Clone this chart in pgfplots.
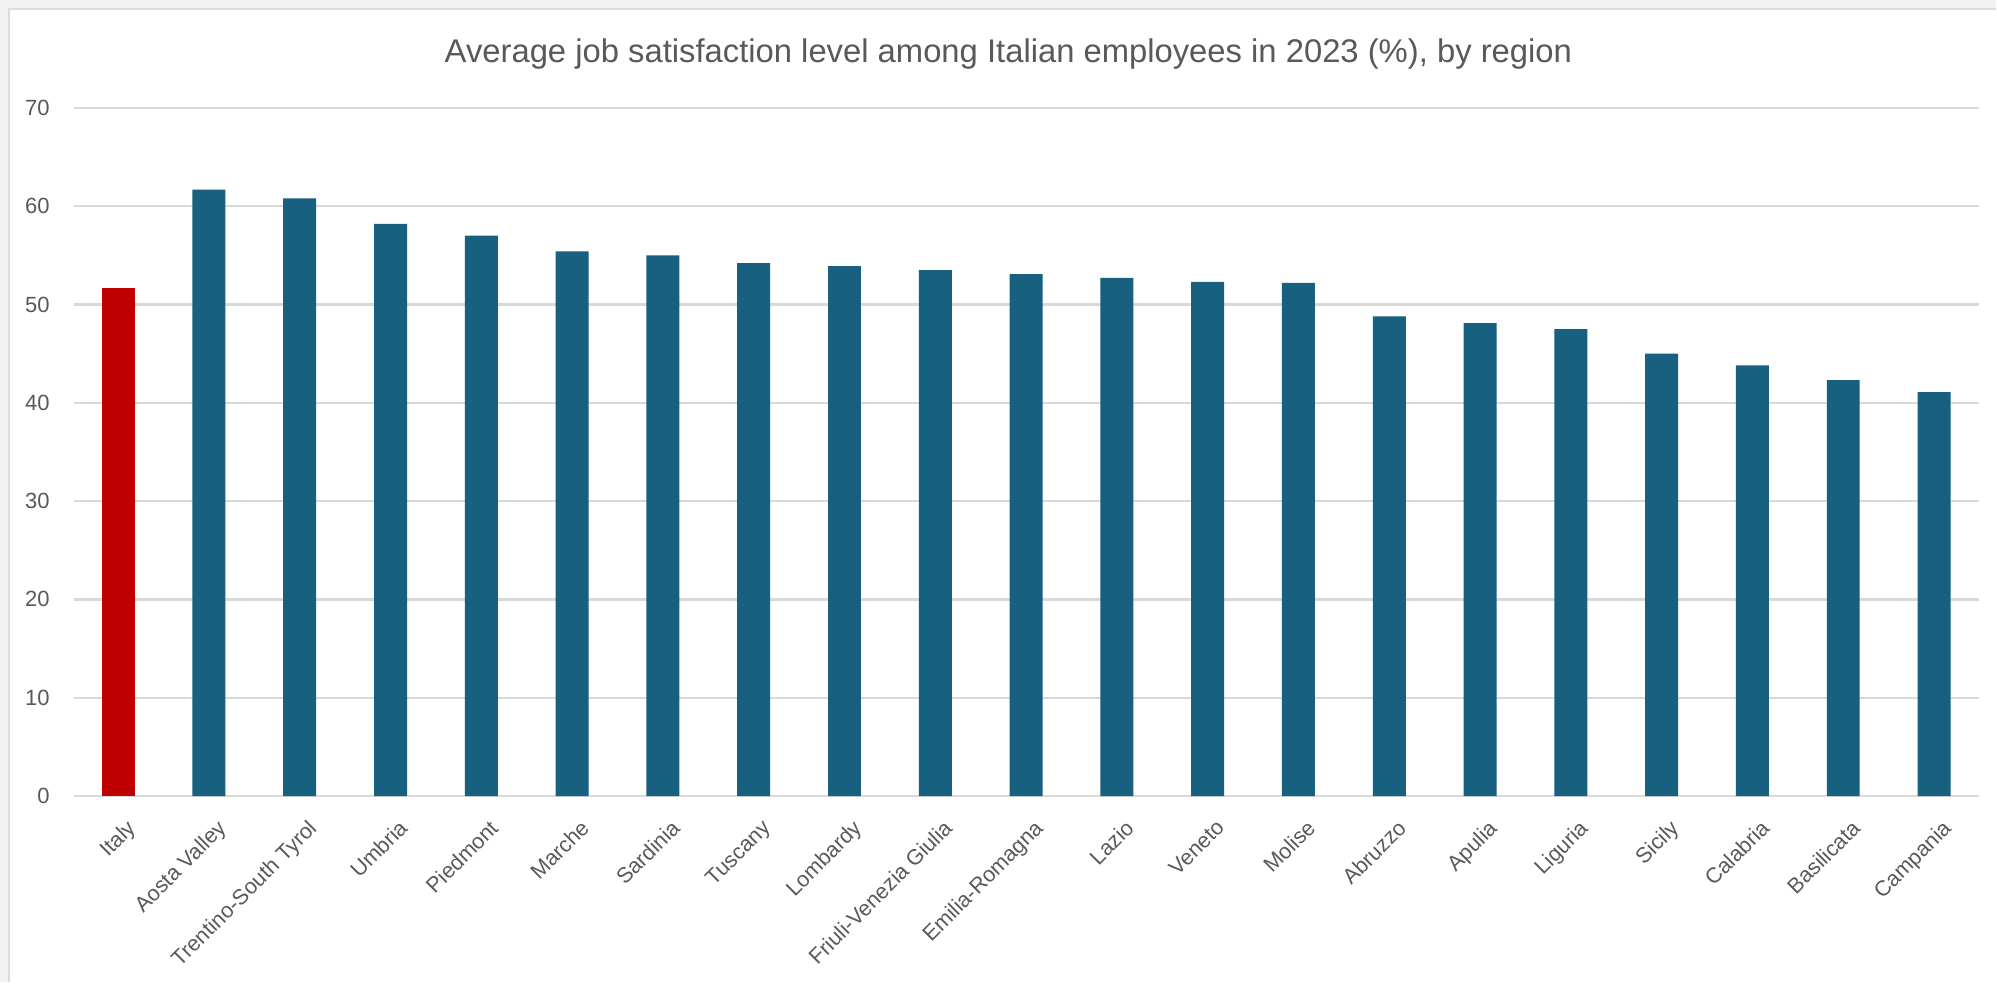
\documentclass[border=0pt]{standalone}
\usepackage{pgfplots}
\pgfplotsset{compat=1.18}
\usepackage{fontspec}
\setmainfont{Liberation Sans}
\definecolor{barblue}{HTML}{17607F}
\definecolor{barred}{HTML}{C00000}
\definecolor{txt}{HTML}{595959}
\definecolor{gridc}{HTML}{D9D9D9}
\definecolor{framec}{HTML}{F2F2F2}
\begin{document}
\begin{tikzpicture}[x=1pt,y=1pt]
\fill[framec] (0,0) rectangle (998.5,491.5);
\fill[white] (5,0) rectangle (998.5,486.5);
\draw[black!14, line width=1.2pt] (4.6,0) -- (4.6,486.9) -- (998.5,486.9);
\path[use as bounding box] (0,0) rectangle (998.5,491.5);
\node[text=txt, font=\fontsize{16.4}{19}\selectfont, anchor=base] at (504.5,460) {Average job satisfaction level among Italian employees in 2023 (\%), by region};
\begin{axis}[
  at={(36.85pt,93.25pt)}, anchor=south west,
  scale only axis, width=953pt, height=344.25pt,
  xmin=-0.49, xmax=20.49, ymin=0, ymax=70,
  ytick={0,10,...,70},
  ymajorgrids, grid style={gridc, line width=1.2pt},
  axis line style={draw=none},
  major tick length=0pt,
  xtick={0,...,20},
  xticklabels={Italy,Aosta Valley,Trentino-South Tyrol,Umbria,Piedmont,Marche,Sardinia,Tuscany,Lombardy,Friuli-Venezia Giulia,Emilia-Romagna,Lazio,Veneto,Molise,Abruzzo,Apulia,Liguria,Sicily,Calabria,Basilicata,Campania},
  x tick label style={rotate=45, anchor=north east, font=\fontsize{10.8}{12}\selectfont, text=txt, yshift=-7pt, xshift=-2pt},
  y tick label style={font=\fontsize{11}{13}\selectfont, text=txt, xshift=-8.5pt},
  /pgf/number format/assume math mode=true,
  ybar, bar width=16.5pt, bar shift=0pt,
]
\addplot[fill=barred, draw=none] coordinates {(0,51.7)};
\addplot[fill=barblue, draw=none] coordinates {
(1,61.7) (2,60.8) (3,58.2) (4,57.0) (5,55.4) (6,55.0) (7,54.2) (8,53.9) (9,53.5) (10,53.1)
(11,52.7) (12,52.3) (13,52.2) (14,48.8) (15,48.1) (16,47.5) (17,45.0) (18,43.8) (19,42.3) (20,41.1)};
\end{axis}
\end{tikzpicture}
\end{document}
